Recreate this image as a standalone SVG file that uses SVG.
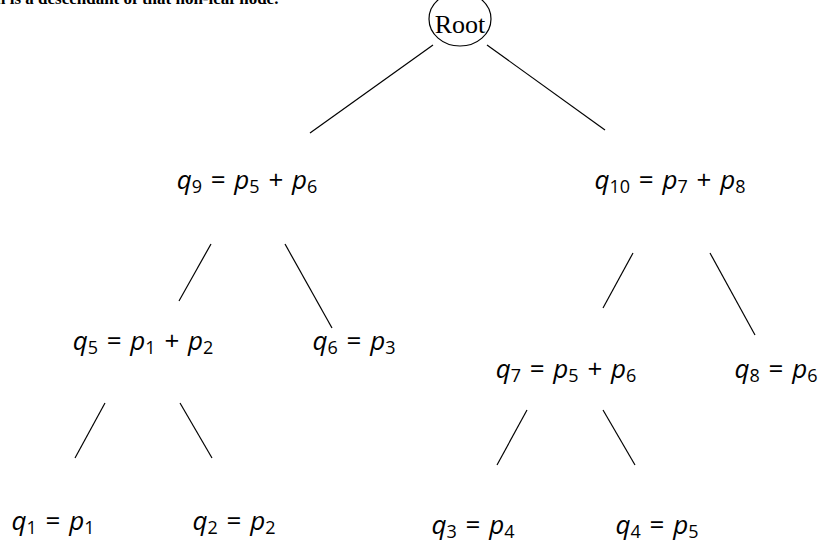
<svg xmlns="http://www.w3.org/2000/svg" width="818" height="545" viewBox="0 0 818 545">
<style>
.lbl{font-family:"Open Sans","Noto Sans",sans-serif;font-size:26px;fill:#000}
.v{font-style:italic}
.s{font-size:18px}
.edge{stroke:#000;stroke-width:1.2;fill:none}
.top{font-family:"Liberation Serif",serif;font-size:17px;font-weight:bold;fill:#000}
</style>
<rect width="818" height="545" fill="#fff"/>
<text class="top" x="-4" y="4">n is a descendant of that non-leaf node.</text>
<g id="connectors">
<line class="edge" x1="433" y1="45" x2="310" y2="133"/>
<line class="edge" x1="487" y1="45" x2="605" y2="130"/>
<line class="edge" x1="211" y1="244" x2="179" y2="301"/>
<line class="edge" x1="285" y1="244" x2="332" y2="328"/>
<line class="edge" x1="633" y1="253" x2="603" y2="308"/>
<line class="edge" x1="710" y1="253" x2="755" y2="335"/>
<line class="edge" x1="105" y1="403" x2="75" y2="458"/>
<line class="edge" x1="180" y1="403" x2="212" y2="458"/>
<line class="edge" x1="527" y1="410" x2="497" y2="465"/>
<line class="edge" x1="603" y1="410" x2="635" y2="465"/>
</g>
<g id="root">
<ellipse cx="460" cy="19" rx="31" ry="27" fill="#fff" stroke="#000" stroke-width="1.2"/>
<text x="460" y="33" text-anchor="middle" font-family="Liberation Serif,serif" font-size="26">Root</text>
</g>
<g id="q9"><text class="lbl" x="247" y="189" text-anchor="middle"><tspan class="v">q</tspan><tspan class="s" dy="4">9</tspan><tspan dy="-4" dx="2"> = </tspan><tspan class="v" dx="2">p</tspan><tspan class="s" dy="4">5</tspan><tspan dy="-4" dx="2"> + </tspan><tspan class="v" dx="2">p</tspan><tspan class="s" dy="4">6</tspan></text></g>
<g id="q10"><text class="lbl" x="670" y="189" text-anchor="middle"><tspan class="v">q</tspan><tspan class="s" dy="4">10</tspan><tspan dy="-4" dx="2"> = </tspan><tspan class="v" dx="2">p</tspan><tspan class="s" dy="4">7</tspan><tspan dy="-4" dx="2"> + </tspan><tspan class="v" dx="2">p</tspan><tspan class="s" dy="4">8</tspan></text></g>
<g id="q5"><text class="lbl" x="143" y="350" text-anchor="middle"><tspan class="v">q</tspan><tspan class="s" dy="4">5</tspan><tspan dy="-4" dx="2"> = </tspan><tspan class="v" dx="2">p</tspan><tspan class="s" dy="4">1</tspan><tspan dy="-4" dx="2"> + </tspan><tspan class="v" dx="2">p</tspan><tspan class="s" dy="4">2</tspan></text></g>
<g id="q6"><text class="lbl" x="354" y="350" text-anchor="middle"><tspan class="v">q</tspan><tspan class="s" dy="4">6</tspan><tspan dy="-4" dx="2"> = </tspan><tspan class="v" dx="2">p</tspan><tspan class="s" dy="4">3</tspan></text></g>
<g id="q7"><text class="lbl" x="566" y="378" text-anchor="middle"><tspan class="v">q</tspan><tspan class="s" dy="4">7</tspan><tspan dy="-4" dx="2"> = </tspan><tspan class="v" dx="2">p</tspan><tspan class="s" dy="4">5</tspan><tspan dy="-4" dx="2"> + </tspan><tspan class="v" dx="2">p</tspan><tspan class="s" dy="4">6</tspan></text></g>
<g id="q8"><text class="lbl" x="776" y="378" text-anchor="middle"><tspan class="v">q</tspan><tspan class="s" dy="4">8</tspan><tspan dy="-4" dx="2"> = </tspan><tspan class="v" dx="2">p</tspan><tspan class="s" dy="4">6</tspan></text></g>
<g id="q1"><text class="lbl" x="53" y="530" text-anchor="middle"><tspan class="v">q</tspan><tspan class="s" dy="4">1</tspan><tspan dy="-4" dx="2"> = </tspan><tspan class="v" dx="2">p</tspan><tspan class="s" dy="4">1</tspan></text></g>
<g id="q2"><text class="lbl" x="234" y="530" text-anchor="middle"><tspan class="v">q</tspan><tspan class="s" dy="4">2</tspan><tspan dy="-4" dx="2"> = </tspan><tspan class="v" dx="2">p</tspan><tspan class="s" dy="4">2</tspan></text></g>
<g id="q3"><text class="lbl" x="473" y="534" text-anchor="middle"><tspan class="v">q</tspan><tspan class="s" dy="4">3</tspan><tspan dy="-4" dx="2"> = </tspan><tspan class="v" dx="2">p</tspan><tspan class="s" dy="4">4</tspan></text></g>
<g id="q4"><text class="lbl" x="657" y="534" text-anchor="middle"><tspan class="v">q</tspan><tspan class="s" dy="4">4</tspan><tspan dy="-4" dx="2"> = </tspan><tspan class="v" dx="2">p</tspan><tspan class="s" dy="4">5</tspan></text></g>
</svg>
